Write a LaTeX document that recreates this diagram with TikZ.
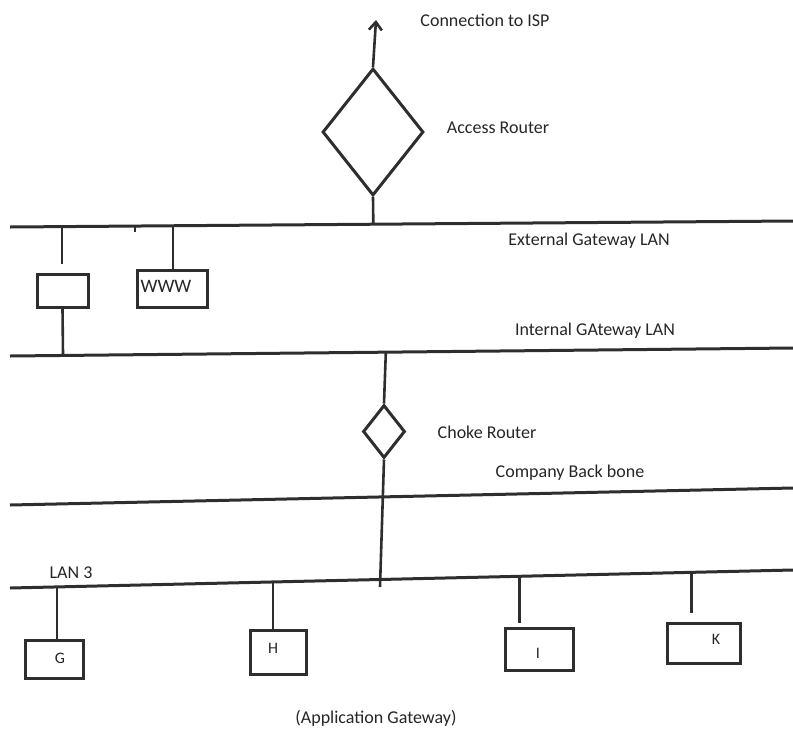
\documentclass[tikz,border=0pt]{standalone}
\usepackage{fontspec}
\setmainfont{Carlito}
\usetikzlibrary{shapes.geometric,arrows.meta,calc}

\begin{document}
\begin{tikzpicture}[x=1pt,y=-1pt,
  ink/.style={draw=black!82},
  lan/.style={ink, line width=3pt},
  wire/.style={ink, line width=2.6pt},
  host/.style={ink, line width=3pt, rectangle, fill=white, inner sep=0pt},
  router/.style={ink, line width=3pt, diamond, fill=white, inner sep=0pt},
  lbl/.style={font=\fontsize{18}{20}\selectfont, text=black!85, inner sep=0pt},
  boxlbl/.style={font=\fontsize{16}{18}\selectfont, text=black!85, inner sep=0pt}]
\useasboundingbox (0,0) rectangle (793,732);

% network segments
\coordinate (ext-w) at (10,227);  \coordinate (ext-e) at (793,221);
\coordinate (int-w) at (10,356);  \coordinate (int-e) at (793,348);
\coordinate (bb-w)  at (10,505);  \coordinate (bb-e)  at (793,488);
\coordinate (lan3-w) at (10,588); \coordinate (lan3-e) at (793,570);
\draw[lan] (ext-w) -- (ext-e);
\draw[lan] (int-w) -- (int-e);
\draw[lan] (bb-w) -- (bb-e);
\draw[lan] (lan3-w) -- (lan3-e);

% taps on the segments
\coordinate (tap-acc) at ($(ext-w)!0.464!(ext-e)$);
\coordinate (tap-b1)  at ($(ext-w)!0.0664!(ext-e)$);
\coordinate (tap-tk)  at ($(ext-w)!0.1596!(ext-e)$);
\coordinate (tap-www) at ($(ext-w)!0.208!(ext-e)$);
\coordinate (tap-b1i) at ($(int-w)!0.0677!(int-e)$);
\coordinate (tap-ch)  at ($(int-w)!0.480!(int-e)$);
\coordinate (tap-g)   at ($(lan3-w)!0.060!(lan3-e)$);
\coordinate (tap-h)   at ($(lan3-w)!0.336!(lan3-e)$);
\coordinate (tap-i)   at ($(lan3-w)!0.651!(lan3-e)$);
\coordinate (tap-k)   at ($(lan3-w)!0.870!(lan3-e)$);

% routers
\node[router, minimum width=101pt, minimum height=127pt] (acc) at (373,132) {};
\node[router, minimum width=42pt, minimum height=53pt] (choke) at (384,431.5) {};
\coordinate (isp) at (376,20);
\coordinate (choke-end) at (380,587);

% hosts
\node[host, minimum width=51pt, minimum height=33pt] (b1)  at (62.5,290.5) {};
\node[host, minimum width=70pt, minimum height=37pt] (www) at (172,288.5) {};
\node[host, minimum width=58pt, minimum height=38pt] (g) at (54,659) {};
\node[host, minimum width=56pt, minimum height=44pt] (h) at (278,652) {};
\node[host, minimum width=68pt, minimum height=42pt] (i) at (539,649) {};
\node[host, minimum width=73pt, minimum height=40pt] (k) at (703.5,643) {};

% links
\draw[wire, -{Straight Barb[length=8pt,width=13pt,line width=2.6pt]}] (acc.north) -- (isp);
\draw[wire] (acc.south) -- (tap-acc);
\draw[wire] (tap-b1) -- ([yshift=9pt]b1.north -| tap-b1);
\draw[wire] (b1.south) -- (tap-b1i);
\draw[wire, line width=1.8pt] (tap-tk) -- ++(0,6);
\draw[wire] (tap-www) -- ([yshift=-3pt]www.north -| tap-www);
\draw[wire] (tap-ch) -- (choke.north);
\draw[wire] (choke.south) -- (choke-end);
\draw[wire] (tap-g) -- (g.north -| tap-g);
\draw[wire] (tap-h) -- (h.north -| tap-h);
\draw[wire] (tap-i) -- ([yshift=4pt]i.north -| tap-i);
\draw[wire] (tap-k) -- ([yshift=9pt]k.north -| tap-k);

% labels
\node[lbl] (l-isp)  at (485,20)  {Connection to ISP};
\node[lbl] (l-acc)  at (498,128) {Access Router};
\node[lbl] (l-ext)  at (589,241) {External Gateway LAN};
\node[lbl] (l-int)  at (595,331) {Internal GAteway LAN};
\node[lbl] (l-ch)   at (487,432) {Choke Router};
\node[lbl] (l-bb)   at (570,473) {Company Back bone};
\node[lbl] (l-lan3) at (71,573)  {LAN 3};
\node[lbl] (l-app)  at (376,718) {(Application Gateway)};
\node[boxlbl, font=\fontsize{19}{21}\selectfont] (t-www) at (166,286) {WWW};
\node[boxlbl] (t-g) at (60,658) {G};
\node[boxlbl] (t-h) at (273,648) {H};
\node[boxlbl] (t-i) at (538,653) {I};
\node[boxlbl] (t-k) at (716,639) {K};
\end{tikzpicture}
\end{document}
